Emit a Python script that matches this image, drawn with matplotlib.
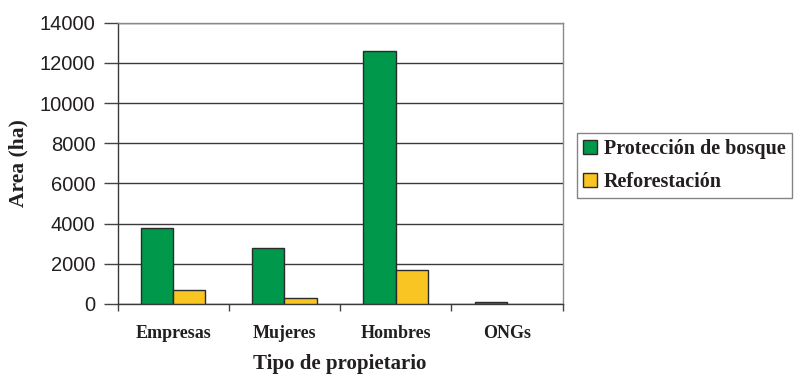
import numpy as np
import matplotlib.pyplot as plt

# ---------------------------------------------------------------------
# Data
# ---------------------------------------------------------------------
CATEGORIES = ["Empresas", "Mujeres", "Hombres", "ONGs"]
PROTECCION = [3760, 2780, 12600, 80]
REFORESTACION = [710, 310, 1670, 0]
Y_TICKS = [0, 2000, 4000, 6000, 8000, 10000, 12000, 14000]

GREEN = "#00984a"
YELLOW = "#f8c523"
EDGE = "#2b2b2b"
TEXT = "#231f20"

SERIF = ["Liberation Serif", "DejaVu Serif"]
SANS = ["Liberation Sans", "DejaVu Sans"]

fig = plt.figure(figsize=(7.94, 3.76), dpi=100)
ax = fig.add_axes([0.148, 0.1915, 0.5607, 0.7481])

x = np.arange(len(CATEGORIES))
width = 0.29

bars_p = ax.bar(x - width / 2, PROTECCION, width, color=GREEN, edgecolor=EDGE,
                linewidth=1.0, label="Protección de bosque", zorder=3)
bars_r = ax.bar(x + width / 2, REFORESTACION, width, color=YELLOW,
                edgecolor=EDGE, linewidth=1.0, label="Reforestación", zorder=3)

# empty bars leave no outline in the original
for bar in list(bars_p) + list(bars_r):
    if bar.get_height() == 0:
        bar.set_visible(False)

ax.set_xlim(-0.5, len(CATEGORIES) - 0.5)
ax.set_ylim(0, 14000)
ax.set_yticks(Y_TICKS)
ax.set_yticklabels([str(v) for v in Y_TICKS], family=SANS, fontsize=14.5,
                   color=TEXT)

# category labels in the middle, ticks on the category boundaries
ax.set_xticks(x)
ax.set_xticklabels(CATEGORIES, family=SERIF, fontweight="bold", fontsize=13,
                   color=TEXT)
ax.tick_params(axis="x", length=0, pad=15)
ax.set_xticks(np.arange(-0.5, len(CATEGORIES), 1.0), minor=True)
ax.tick_params(axis="x", which="minor", length=5, width=1.0, color="#444444",
               direction="out")
ax.tick_params(axis="y", length=10, width=1.0, color="#444444", pad=6)

ax.yaxis.grid(True, color="#3a3a3a", linewidth=1.0, zorder=0)
ax.set_axisbelow(True)
for side in ["left", "bottom"]:
    ax.spines[side].set_color("#3a3a3a")
    ax.spines[side].set_linewidth(1.0)
for side in ["top", "right"]:
    ax.spines[side].set_color("#8a8a8a")
    ax.spines[side].set_linewidth(1.0)

ax.set_xlabel("Tipo de propietario", family=SERIF, fontweight="bold",
              fontsize=15, color=TEXT, labelpad=9)
ax.set_ylabel("Area (ha)", family=SERIF, fontweight="bold", fontsize=15.5,
              color=TEXT, labelpad=8)

leg = fig.legend(loc="upper left", bbox_to_anchor=(0.7267, 0.6463),
                 borderaxespad=0, frameon=True, fancybox=False, shadow=False,
                 prop={"family": SERIF, "weight": "bold", "size": 14.5},
                 handlelength=0.7, handleheight=0.7, handletextpad=0.35,
                 labelspacing=0.65, borderpad=0.3)
leg.get_frame().set_edgecolor("#666666")
leg.get_frame().set_linewidth(1.0)
for t in leg.get_texts():
    t.set_color(TEXT)

fig.savefig("out.png", dpi=100)
